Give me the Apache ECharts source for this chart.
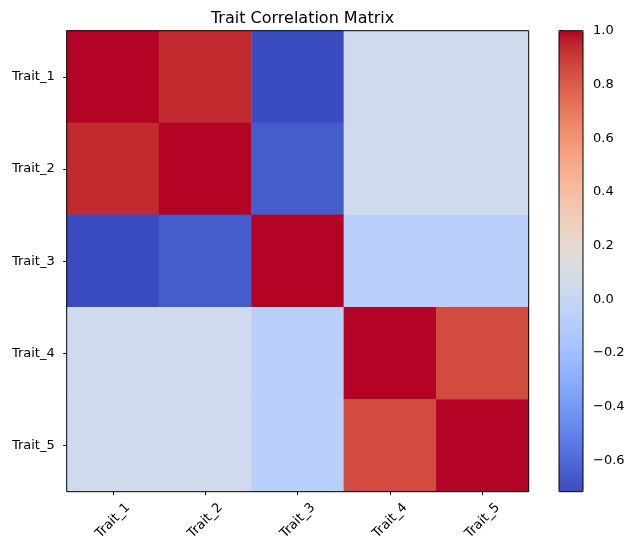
<!DOCTYPE html>
<html>
<head>
<meta charset="utf-8">
<script src="https://cdn.jsdelivr.net/npm/echarts@6/dist/echarts.min.js"></script>
<style>
  html, body { margin: 0; padding: 0; background: #fff; }
  #chart { width: 635px; height: 554px; }
</style>
</head>
<body>
<div id="chart"></div>
<script>
// trait names, same order on both axes
var traits = ['Trait_1', 'Trait_2', 'Trait_3', 'Trait_4', 'Trait_5'];
// correlation matrix, one row per trait
var row1 = [1.00, 0.94, -0.716, 0.05, 0.05];
var row2 = [0.94, 1.00, -0.656, 0.05, 0.05];
var row3 = [-0.716, -0.656, 1.00, -0.072, -0.072];
var row4 = [0.05, 0.05, -0.072, 1.00, 0.854];
var row5 = [0.05, 0.05, -0.072, 0.854, 1.00];
var rows = [row1, row2, row3, row4, row5];
// colorbar range and ticks
var cbMin = -0.716;
var cbMax = 1.0;
var cbTicks = [-0.6, -0.4, -0.2, 0.0, 0.2, 0.4, 0.6, 0.8, 1.0];
// coolwarm colormap stops
var coolwarm = [
  '#3b4cc0', '#445acc', '#4d68d7', '#5775e1', '#6282ea', '#6c8ef1', '#779af7', '#82a5fb',
  '#8db0fe', '#98b9ff', '#a3c2ff', '#aec9fd', '#b8d0f9', '#c2d5f4', '#ccd9ee', '#d5dbe6',
  '#dddddd', '#e5d8d1', '#ecd3c5', '#f1ccb9', '#f5c4ad', '#f7bba0', '#f7b194', '#f7a687',
  '#f49a7b', '#f18d6f', '#ec7f63', '#e57058', '#de604d', '#d55042', '#cb3e38', '#c0282f',
  '#b40426'
];

var cells = [];
rows.forEach(function (r, i) {
  r.forEach(function (v, j) {
    cells.push([j, i, v]);
  });
});

var font = 'DejaVu Sans';
var myChart = echarts.init(document.getElementById('chart'));
var option = {
  backgroundColor: '#fff',
  animation: false,
  textStyle: { fontFamily: font },
  title: {
    text: 'Trait Correlation Matrix',
    left: 297.6,
    textAlign: 'center',
    top: 6,
    textStyle: { fontFamily: font, fontSize: 16, fontWeight: 'normal', color: '#000' }
  },
  grid: [
    { left: 66.7, top: 30.7, width: 462, height: 461, show: true, borderColor: '#000', borderWidth: 1, backgroundColor: 'transparent', z: 10 },
    { left: 559, top: 30.7, width: 24, height: 461, show: true, borderColor: '#000', borderWidth: 1, backgroundColor: 'transparent', z: 10 }
  ],
  xAxis: [
    {
      type: 'category', data: traits, gridIndex: 0, position: 'bottom',
      axisLine: { show: false },
      axisTick: { show: true, alignWithLabel: true, length: 3.5, lineStyle: { color: '#000' } },
      axisLabel: { rotate: 45, align: 'center', verticalAlign: 'middle', margin: 29, fontSize: 13, color: '#000', fontFamily: font },
      splitLine: { show: false }, splitArea: { show: false }
    },
    { type: 'value', gridIndex: 1, show: false, min: 0, max: 1 }
  ],
  yAxis: [
    {
      type: 'category', data: traits, gridIndex: 0, inverse: true,
      axisLine: { show: false },
      axisTick: { show: true, alignWithLabel: true, length: 3.5, lineStyle: { color: '#000' } },
      axisLabel: { margin: 12, fontSize: 13, color: '#000', fontFamily: font },
      splitLine: { show: false }, splitArea: { show: false }
    },
    {
      type: 'value', gridIndex: 1, position: 'right', min: cbMin, max: cbMax,
      axisLine: { show: false },
      axisTick: { show: true, length: 3.5, lineStyle: { color: '#000' }, customValues: cbTicks },
      axisLabel: {
        margin: 10, fontSize: 13, color: '#000', fontFamily: font,
        customValues: cbTicks,
        formatter: function (v) { return v.toFixed(1).replace('-', '\u2212'); }
      },
      splitLine: { show: false }
    }
  ],
  visualMap: {
    type: 'continuous',
    min: cbMin, max: cbMax,
    calculable: false,
    seriesIndex: 0,
    left: 559, top: 30.7,
    itemWidth: 24, itemHeight: 461,
    padding: 0,
    textStyle: { color: 'rgba(0,0,0,0)' },
    inRange: { color: coolwarm }
  },
  series: [{
    type: 'heatmap',
    xAxisIndex: 0, yAxisIndex: 0,
    data: cells,
    itemStyle: { borderWidth: 0 },
    emphasis: { disabled: true }
  }]
};
myChart.setOption(option);
window.addEventListener('resize', function () {
  myChart.resize();
});
</script>
</body>
</html>
